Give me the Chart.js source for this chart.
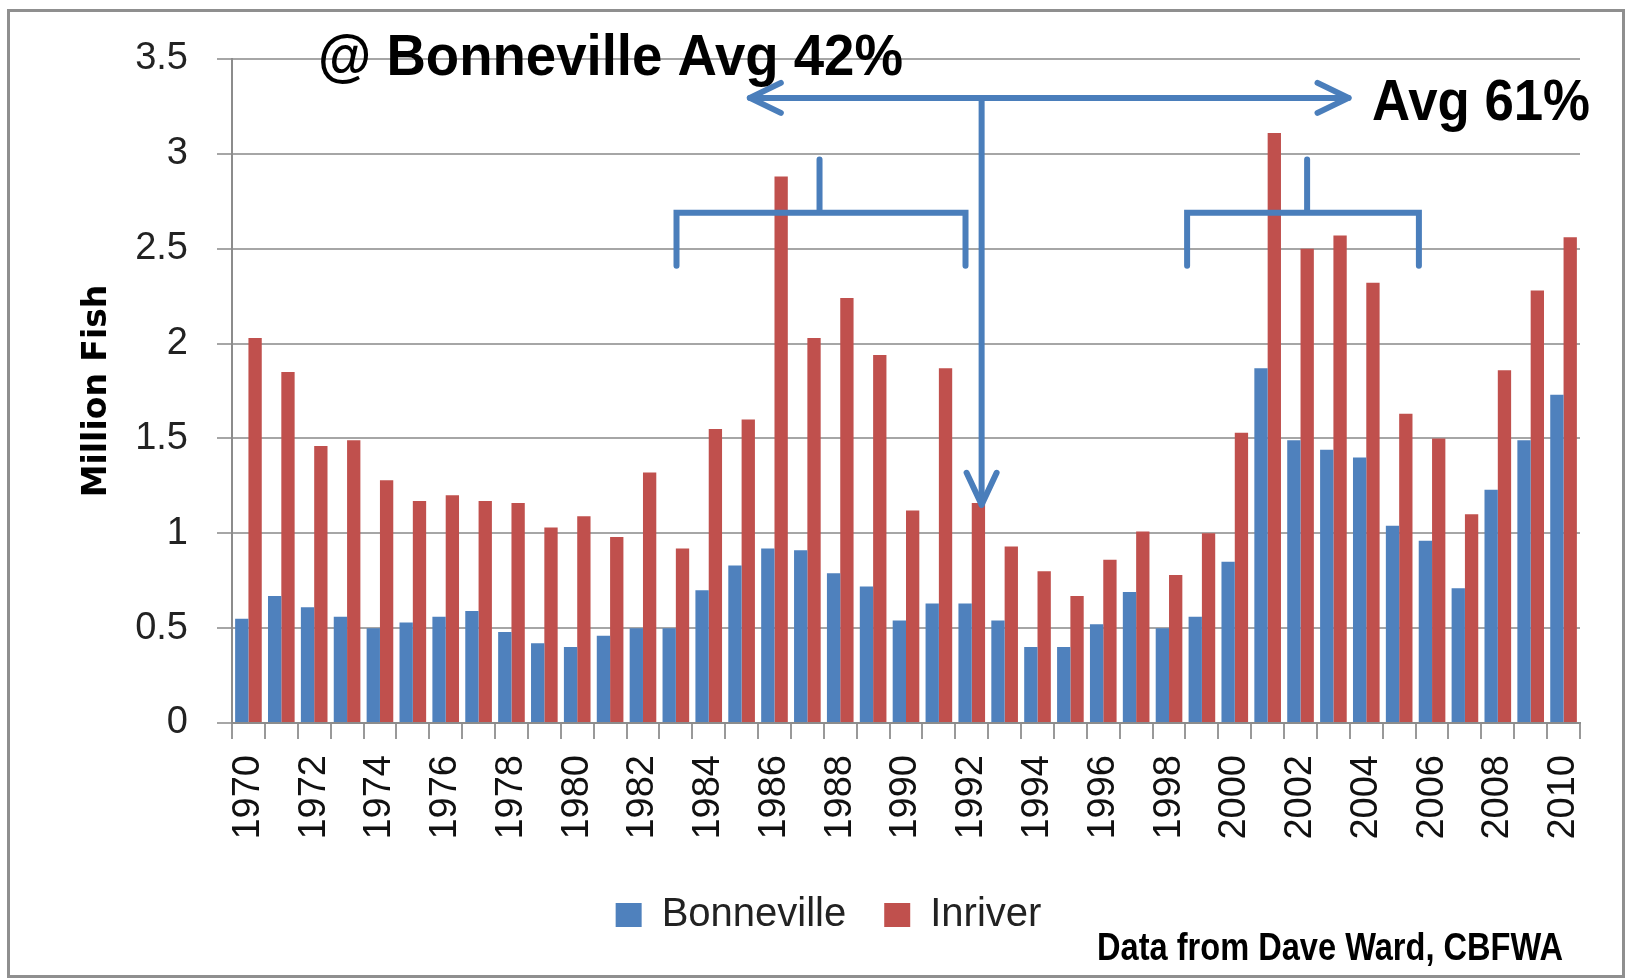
<!DOCTYPE html>
<html>
<head>
<meta charset="utf-8">
<title>Million Fish</title>
<script src="https://cdn.jsdelivr.net/npm/chart.js@4.4.1/dist/chart.umd.min.js"></script>
<style>
    html, body { margin: 0; padding: 0; background: #fff; }
    #wrap { position: relative; width: 1628px; height: 980px; }
    #frame {
        position: absolute; left: 7px; top: 9px; width: 1618px; height: 969px;
        box-sizing: border-box; border: 3px solid #8f8f8f;
    }
    #chart { position: absolute; left: 0; top: 0; }
</style>
</head>
<body>
<div id="wrap">
    <div id="frame"></div>
    <canvas id="chart" width="1628" height="980"></canvas>
</div>
<script>
const years = [
    1970, 1971, 1972, 1973, 1974, 1975, 1976, 1977, 1978, 1979,
    1980, 1981, 1982, 1983, 1984, 1985, 1986, 1987, 1988, 1989,
    1990, 1991, 1992, 1993, 1994, 1995, 1996, 1997, 1998, 1999,
    2000, 2001, 2002, 2003, 2004, 2005, 2006, 2007, 2008, 2009, 2010,
];

// millions of fish
const bonneville = [
    0.55, 0.67, 0.61, 0.56, 0.50, 0.53, 0.56, 0.59, 0.48, 0.42,
    0.40, 0.46, 0.50, 0.50, 0.70, 0.83, 0.92, 0.91, 0.79, 0.72,
    0.54, 0.63, 0.63, 0.54, 0.40, 0.40, 0.52, 0.69, 0.50, 0.56,
    0.85, 1.87, 1.49, 1.44, 1.40, 1.04, 0.96, 0.71, 1.23, 1.49, 1.73,
];

const inriver = [
    2.03, 1.85, 1.46, 1.49, 1.28, 1.17, 1.20, 1.17, 1.16, 1.03,
    1.09, 0.98, 1.32, 0.92, 1.55, 1.60, 2.88, 2.03, 2.24, 1.94,
    1.12, 1.87, 1.16, 0.93, 0.80, 0.67, 0.86, 1.01, 0.78, 1.00,
    1.53, 3.11, 2.50, 2.57, 2.32, 1.63, 1.50, 1.10, 1.86, 2.28, 2.56,
];

const yTicks = [0, 0.5, 1, 1.5, 2, 2.5, 3, 3.5];

const BLUE = '#4f81bd';
const RED = '#c0504d';
const ARROW = '#4a7ebb';
const REGULAR = '"Liberation Sans", Arial, sans-serif';

const PAD_LEFT = 77;      // shifts the legend right, the y axis keeps its place
const LEGEND_PAD = 38;

// draws text squeezed to a given width (the source used a condensed bold face)
function fitText(ctx, text, x, y, width) {
    const w = ctx.measureText(text).width;
    ctx.save();
    ctx.translate(x, y);
    ctx.scale(width / w, 1);
    ctx.fillText(text, 0, 0);
    ctx.restore();
}

// blue arrows, brackets and the text notes drawn over the bars
const annotations = {
    id: 'annotations',
    afterDraw(chart) {
        const { ctx } = chart;
        const x = chart.scales.x;
        const y = chart.scales.y;
        const px = (v) => x.getPixelForValue(v);
        const py = (v) => y.getPixelForValue(v);

        ctx.save();
        ctx.strokeStyle = ARROW;
        ctx.lineWidth = 6;
        ctx.lineCap = 'round';
        ctx.lineJoin = 'miter';

        // brackets over 1983-1992 and 1999-2006
        [[13.02, 21.81, 17.37], [28.55, 35.6, 32.2]].forEach(([a, b, mid]) => {
            ctx.beginPath();
            ctx.moveTo(px(a), py(2.41));
            ctx.lineTo(px(a), py(2.69));
            ctx.lineTo(px(b), py(2.69));
            ctx.lineTo(px(b), py(2.41));
            ctx.moveTo(px(mid), py(2.69));
            ctx.lineTo(px(mid), py(2.97));
            ctx.stroke();
        });

        // double arrow and the drop arrow
        const ay = py(3.295);
        const left = px(15.25);
        const right = px(33.46);
        const drop = px(22.3);
        const tip = py(1.15);
        ctx.beginPath();
        ctx.moveTo(left, ay);
        ctx.lineTo(right, ay);
        ctx.moveTo(drop, ay);
        ctx.lineTo(drop, tip);
        ctx.stroke();

        ctx.lineJoin = 'round';
        ctx.beginPath();
        ctx.moveTo(left + 31, ay - 15);
        ctx.lineTo(left, ay);
        ctx.lineTo(left + 31, ay + 15);
        ctx.moveTo(right - 31, ay - 15);
        ctx.lineTo(right, ay);
        ctx.lineTo(right - 31, ay + 15);
        ctx.moveTo(drop - 15, tip - 32);
        ctx.lineTo(drop, tip);
        ctx.lineTo(drop + 15, tip - 32);
        ctx.stroke();

        ctx.fillStyle = '#000';
        ctx.textBaseline = 'alphabetic';
        ctx.textAlign = 'left';
        ctx.font = 'bold 58px ' + REGULAR;
        fitText(ctx, '@ Bonneville Avg 42%', 318, 75, 585);
        fitText(ctx, 'Avg 61%', 1372, 120, 218);
        ctx.font = 'bold 39px ' + REGULAR;
        fitText(ctx, 'Data from Dave Ward, CBFWA', 1097, 960, 466);
        ctx.restore();
    },
};

new Chart(document.getElementById('chart'), {
    type: 'bar',
    data: {
        labels: years,
        datasets: [
            { label: 'Bonneville', data: bonneville, backgroundColor: BLUE },
            { label: 'Inriver', data: inriver, backgroundColor: RED },
        ],
    },
    options: {
        responsive: false,
        animation: false,
        events: [],
        datasets: { bar: { categoryPercentage: 0.81, barPercentage: 1.0 } },
        layout: { padding: { left: PAD_LEFT, top: 59, right: 48, bottom: 35 } },
        scales: {
            x: {
                grid: { drawOnChartArea: false, color: '#999', lineWidth: 2, tickLength: 16 },
                border: { color: '#8c8c8c', width: 2 },
                ticks: {
                    autoSkip: false,
                    maxRotation: 90,
                    minRotation: 90,
                    padding: 16,
                    color: '#111',
                    font: { family: REGULAR, size: 38 },
                    callback: (v, i) => (i % 2 === 0 ? String(years[i]) : ''),
                },
                afterFit: (scale) => { scale.height = 134; },
            },
            y: {
                min: 0,
                max: 3.5,
                afterBuildTicks: (scale) => { scale.ticks = yTicks.map((v) => ({ value: v })); },
                grid: { color: '#a6a6a6', lineWidth: 2, tickLength: 15 },
                border: { color: '#8c8c8c', width: 2 },
                ticks: {
                    padding: 29,
                    color: '#222',
                    font: { family: REGULAR, size: 38 },
                    callback: (v) => String(v),
                },
                title: {
                    display: true,
                    text: 'Million Fish',
                    color: '#000',
                    font: { family: '"DejaVu Sans", sans-serif', size: 33, weight: 'bold', lineHeight: 1 },
                    padding: { top: 4, bottom: 0 },
                },
                afterFit: (scale) => { scale.width = 232 - PAD_LEFT; },
            },
        },
        plugins: {
            legend: {
                position: 'bottom',
                labels: {
                    boxWidth: 26,
                    boxHeight: 24,
                    padding: LEGEND_PAD,
                    color: '#222',
                    font: { family: REGULAR, size: 40 },
                },
            },
            tooltip: { enabled: false },
        },
    },
    plugins: [annotations],
});
</script>
</body>
</html>
